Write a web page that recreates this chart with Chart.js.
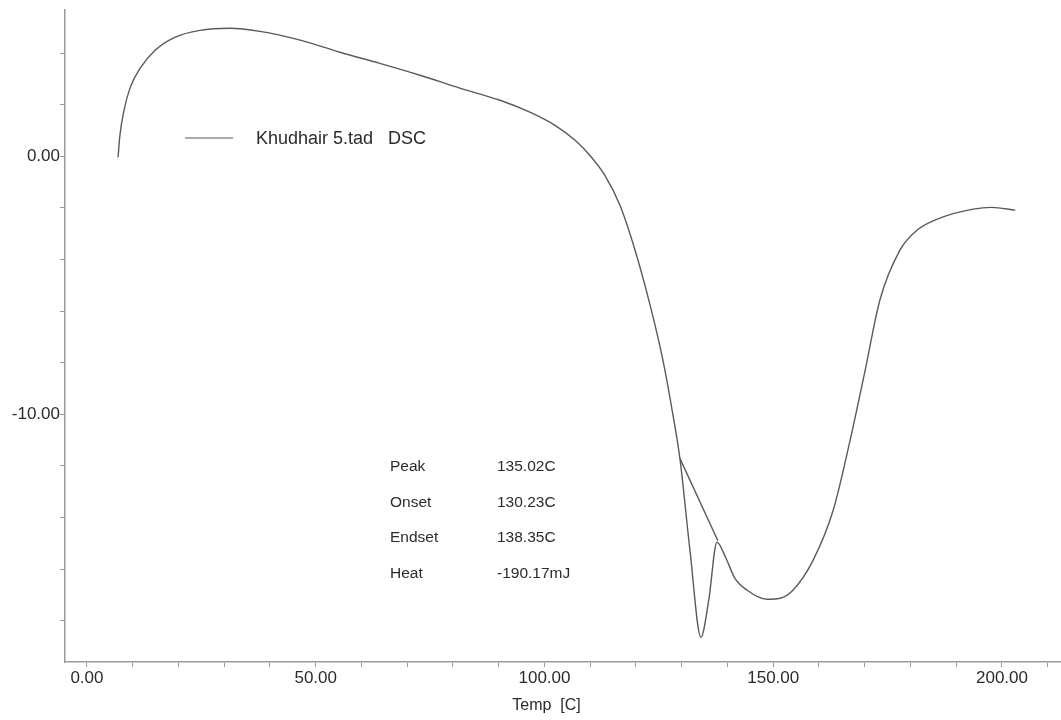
<!DOCTYPE html>
<html>
<head>
<meta charset="utf-8">
<script src="https://cdn.jsdelivr.net/npm/chart.js@4"></script>
<style>
    html, body { margin: 0; padding: 0; background: #fff; }
    #wrap { width: 1061px; height: 720px; }
</style>
</head>
<body>
<div id="wrap"><canvas id="dscChart"></canvas></div>
<script>
// DSC trace (Temp [C], heat flow)
const tempC = [6.8, 7.2, 8.1, 9.4, 11.6, 14.9, 19.2, 24.7, 31.3, 37.8, 46.6, 55.3, 64.0, 72.8,
    81.5, 90.3, 96.8, 102.3, 106.7, 109.9, 113.2, 116.5, 119.8, 123.1, 125.9, 127.9, 129.6,
    131.8, 134.2, 135.9, 137.7, 139.6, 141.6, 144.3, 148.6, 151.5, 154.3, 158.7, 163.1,
    166.8, 170.1, 173.3, 177.7, 181.4, 186.4, 193.7, 197.7, 202.9];
const heatFlow = [-0.04, 0.81, 1.78, 2.64, 3.41, 4.11, 4.61, 4.88, 4.96, 4.84, 4.50, 4.03, 3.60, 3.14,
    2.64, 2.17, 1.71, 1.20, 0.62, 0.04, -0.74, -1.90, -3.64, -5.78, -7.91, -9.84, -11.71,
    -15.27, -18.64, -17.21, -14.96, -15.55, -16.35, -16.82, -17.17, -17.13, -16.82, -15.66, -13.72,
    -11.01, -8.29, -5.58, -3.64, -2.87, -2.40, -2.05, -1.98, -2.09];

// Baseline drawn between onset and endset
const baseTemp = [129.6, 137.9];
const baseFlow = [-11.71, -14.9];

// Axis settings
const xTickLabels = [0, 50, 100, 150, 200];
const yTickLabels = [0, -10];

const legendText = 'Khudhair 5.tad   DSC';
const resultNames = ['Peak', 'Onset', 'Endset', 'Heat'];
const resultValues = ['135.02C', '130.23C', '138.35C', '-190.17mJ'];

const toPoints = (xs, ys) => xs.map((x, i) => ({ x: x, y: ys[i] }));

const inkColor = '#5a5a5a';
const textColor = '#2b2b2b';
const fontFamily = '"Liberation Sans", Arial, sans-serif';

// Legend, results table and axis title
const notesPlugin = {
    id: 'notes',
    afterDraw(chart) {
        const ctx = chart.ctx;
        const xScale = chart.scales.x;
        ctx.save();
        ctx.fillStyle = textColor;
        ctx.textBaseline = 'middle';

        // legend
        ctx.strokeStyle = inkColor;
        ctx.lineWidth = 1.2;
        ctx.beginPath();
        ctx.moveTo(185, 138);
        ctx.lineTo(233, 138);
        ctx.stroke();
        ctx.font = '18px ' + fontFamily;
        ctx.textAlign = 'left';
        ctx.fillText(legendText, 256, 139);

        // results
        ctx.font = '15.5px ' + fontFamily;
        resultNames.forEach((name, i) => {
            const y = 467 + i * 35.5;
            ctx.fillText(name, 390, y);
            ctx.fillText(resultValues[i], 497, y);
        });

        // axis title under the 100 tick
        ctx.font = '16px ' + fontFamily;
        ctx.textAlign = 'center';
        ctx.fillText('Temp  [C]', xScale.getPixelForValue(100) + 2, 706);
        ctx.restore();
    }
};

const dscCtx = document.getElementById('dscChart').getContext('2d');
const dscChart = new Chart(dscCtx, {
    type: 'line',
    data: {
        datasets: [
            {
                label: 'DSC',
                data: toPoints(tempC, heatFlow),
                borderColor: inkColor,
                borderWidth: 1.4,
                pointRadius: 0,
                cubicInterpolationMode: 'monotone',
                fill: false
            },
            {
                label: 'Baseline',
                data: toPoints(baseTemp, baseFlow),
                borderColor: inkColor,
                borderWidth: 1.4,
                pointRadius: 0,
                fill: false
            }
        ]
    },
    options: {
        responsive: true,
        maintainAspectRatio: false,
        animation: false,
        layout: {
            padding: { top: 10, right: 0, left: 0, bottom: 0 }
        },
        plugins: {
            legend: { display: false },
            tooltip: { enabled: false }
        },
        scales: {
            x: {
                type: 'linear',
                min: -4.8,
                max: 212.9,
                afterBuildTicks: (scale) => {
                    const ticks = [];
                    for (let v = 0; v <= 210; v += 10) ticks.push({ value: v });
                    scale.ticks = ticks;
                },
                afterFit: (scale) => { scale.height = 58; },
                border: { display: true, color: '#9a9a9a', width: 1.5 },
                grid: {
                    drawOnChartArea: false,
                    color: '#9a9a9a',
                    tickLength: 5
                },
                ticks: {
                    autoSkip: false,
                    maxRotation: 0,
                    padding: 1,
                    color: textColor,
                    font: { family: fontFamily, size: 17 },
                    callback: (v) => xTickLabels.includes(v) ? v.toFixed(2) : ''
                }
            },
            y: {
                type: 'linear',
                min: -19.6,
                max: 5.66,
                afterBuildTicks: (scale) => {
                    const ticks = [];
                    for (let v = -18; v <= 4; v += 2) ticks.push({ value: v });
                    scale.ticks = ticks;
                },
                afterFit: (scale) => { scale.width = 65; },
                border: { display: true, color: '#9a9a9a', width: 1.5 },
                grid: {
                    drawOnChartArea: false,
                    color: '#9a9a9a',
                    tickLength: 5
                },
                ticks: {
                    autoSkip: false,
                    padding: 0,
                    color: textColor,
                    font: { family: fontFamily, size: 17 },
                    callback: (v) => yTickLabels.includes(v) ? v.toFixed(2) : ''
                }
            }
        }
    },
    plugins: [notesPlugin]
});
</script>
</body>
</html>
